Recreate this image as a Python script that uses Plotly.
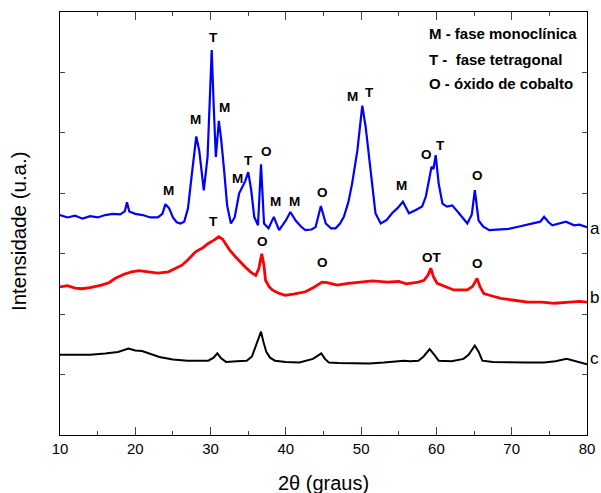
import plotly.graph_objects as go

# ---- data (2theta in degrees, intensity in arbitrary units) ----
a_x = [10.0, 11.0, 12.0, 13.0, 14.0, 15.0, 16.0, 17.0, 18.0, 18.6, 18.9, 19.2, 20.0, 21.0, 22.0, 23.0,
       23.6, 24.0, 24.5, 25.0, 25.5, 26.0, 26.5, 27.0, 27.5, 28.1, 28.5, 29.1, 29.6, 30.0, 30.15, 30.4,
       30.7, 31.1, 31.4, 31.8, 32.2, 32.7, 33.2, 33.8, 34.2, 34.6, 35.0, 35.4, 35.8, 36.3, 36.7, 37.1,
       37.7, 38.4, 39.1, 40.0, 40.6, 41.3, 42.0, 42.6, 43.4, 43.95, 44.65, 45.3, 46.0, 46.6, 47.2, 47.7,
       48.3, 48.8, 49.5, 50.15, 50.6, 51.3, 51.9, 52.6, 53.4, 54.1, 54.8, 55.55, 56.35, 57.2, 58.1, 58.6,
       59.0, 59.35, 59.6, 59.9, 60.3, 60.8, 61.4, 62.1, 63.0, 63.6, 64.1, 64.7, 65.1, 65.6, 66.2, 67.0,
       68.0, 69.6, 71.0, 71.8, 73.0, 73.8, 74.3, 74.9, 75.4, 76.3, 77.2, 78.3, 79.0, 80.0]
a_y = [3.64, 3.60, 3.63, 3.58, 3.62, 3.60, 3.64, 3.66, 3.65, 3.70, 3.85, 3.70, 3.66, 3.64, 3.60, 3.60,
       3.66, 3.82, 3.75, 3.60, 3.52, 3.50, 3.53, 3.75, 4.30, 4.94, 4.70, 4.05, 4.60, 5.80, 6.37, 5.50,
       4.60, 5.20, 4.90, 4.38, 3.80, 3.50, 3.60, 4.00, 4.10, 4.20, 4.35, 4.05, 3.61, 3.47, 4.48, 3.50,
       3.42, 3.61, 3.39, 3.55, 3.69, 3.55, 3.45, 3.39, 3.40, 3.44, 3.79, 3.50, 3.42, 3.42, 3.50, 3.61,
       3.85, 4.16, 4.71, 5.45, 5.10, 4.27, 3.67, 3.50, 3.56, 3.67, 3.75, 3.86, 3.67, 3.72, 3.78, 3.95,
       4.21, 4.44, 4.40, 4.63, 4.16, 3.83, 3.78, 3.80, 3.67, 3.58, 3.50, 3.65, 4.05, 3.55, 3.45, 3.39,
       3.40, 3.41, 3.45, 3.47, 3.50, 3.53, 3.61, 3.52, 3.47, 3.50, 3.53, 3.47, 3.48, 3.44]

b_x = [10.0, 11.0, 12.0, 12.9, 14.0, 15.5, 16.5, 17.3, 18.5, 19.5, 20.5, 21.75, 23.0, 24.4, 25.3, 26.2,
       27.0, 28.0, 29.0, 29.7, 30.4, 31.1, 31.6, 32.0, 32.6, 33.3, 34.0, 34.6, 35.3, 36.0, 36.4, 36.8,
       37.1, 37.3, 37.8, 38.2, 39.0, 39.9, 41.0, 42.6, 43.8, 44.8, 45.5, 46.8, 48.3, 49.9, 51.5, 53.5,
       55.0, 56.0, 56.6, 57.6, 58.35, 58.9, 59.25, 59.6, 60.1, 61.2, 62.3, 63.2, 64.1, 64.8, 65.4, 65.8,
       66.3, 67.4, 68.55, 70.3, 72.1, 74.0, 75.65, 77.7, 79.0, 80.0]
b_y = [2.45, 2.47, 2.43, 2.42, 2.44, 2.48, 2.52, 2.59, 2.66, 2.70, 2.72, 2.70, 2.68, 2.70, 2.75, 2.81,
       2.90, 3.03, 3.10, 3.17, 3.22, 3.28, 3.24, 3.17, 3.05, 2.95, 2.85, 2.78, 2.70, 2.64, 2.75, 3.00,
       2.80, 2.56, 2.45, 2.40, 2.35, 2.31, 2.33, 2.37, 2.45, 2.53, 2.52, 2.48, 2.51, 2.53, 2.55, 2.53,
       2.54, 2.50, 2.51, 2.53, 2.56, 2.65, 2.76, 2.62, 2.51, 2.45, 2.40, 2.40, 2.40, 2.46, 2.59, 2.45,
       2.34, 2.30, 2.26, 2.23, 2.20, 2.20, 2.18, 2.20, 2.21, 2.20]

c_x = [10.0, 12.0, 14.0, 16.0, 17.7, 19.1, 20.0, 20.9, 22.0, 23.2, 25.0, 26.95, 28.5, 29.7, 30.4, 30.9,
       31.4, 32.05, 33.5, 34.8, 35.5, 36.0, 36.4, 36.7, 37.0, 37.4, 37.9, 38.55, 40.0, 41.8, 43.6, 44.2,
       44.7, 45.2, 45.7, 47.0, 49.0, 51.1, 53.0, 55.7, 56.5, 57.6, 58.3, 59.1, 59.7, 60.3, 62.0, 63.6,
       64.3, 65.1, 65.6, 66.1, 67.5, 69.6, 72.0, 74.3, 75.8, 77.3, 78.5, 80.0]
c_y = [1.33, 1.33, 1.33, 1.35, 1.375, 1.43, 1.40, 1.39, 1.34, 1.29, 1.25, 1.23, 1.23, 1.23, 1.28, 1.35,
       1.27, 1.21, 1.22, 1.23, 1.30, 1.46, 1.62, 1.71, 1.55, 1.375, 1.28, 1.23, 1.21, 1.20, 1.26, 1.31,
       1.35, 1.26, 1.20, 1.19, 1.19, 1.185, 1.20, 1.23, 1.22, 1.23, 1.30, 1.42, 1.33, 1.23, 1.22, 1.26,
       1.33, 1.48, 1.38, 1.23, 1.21, 1.20, 1.20, 1.20, 1.22, 1.26, 1.22, 1.17]

series_names = ["a", "b", "c"]
series_colors = ["#0000FF", "#FF0000", "#000000"]
series_widths = [2.2, 2.8, 2.0]

# peak labels: text, 2theta, intensity
peak_text = ["M", "M", "T", "M", "M", "T", "O", "M", "M", "O", "M", "T", "M", "O", "T", "O",
             "T", "O", "O", "OT", "O"]
peak_x = [24.4, 28.0, 30.4, 31.8, 33.6, 35.0, 37.4, 38.6, 41.1, 44.9, 48.9, 51.1, 55.4, 58.7, 60.6, 65.5,
          30.4, 36.9, 44.9, 59.4, 65.4]
peak_y = [4.05, 5.22, 6.58, 5.42, 4.25, 4.55, 4.69, 3.87, 3.87, 4.02, 5.60, 5.67, 4.13, 4.64, 4.79, 4.30,
          3.54, 3.21, 2.86, 2.93, 2.83]

legend_lines = ["M - fase monoclínica", "T -  fase tetragonal", "O - óxido de cobalto"]
legend_y = [6.64, 6.22, 5.82]
series_label_y = [3.42, 2.28, 1.26]

FONT = "Liberation Sans, Arial, sans-serif"

fig = go.Figure()
for xs, ys, name, col, w in zip([a_x, b_x, c_x], [a_y, b_y, c_y], series_names, series_colors, series_widths):
    fig.add_trace(go.Scatter(x=xs, y=ys, mode="lines", name=name,
                             line=dict(color=col, width=w), showlegend=False))

annotations = []
for t, x, y in zip(peak_text, peak_x, peak_y):
    annotations.append(dict(x=x, y=y, xref="x", yref="y", text="<b>%s</b>" % t, showarrow=False,
                            font=dict(family=FONT, size=13.5, color="black")))
for t, y in zip(legend_lines, legend_y):
    annotations.append(dict(x=58.7, y=y, xref="x", yref="y", text="<b>%s</b>" % t, showarrow=False,
                            xanchor="left", font=dict(family=FONT, size=15, color="black")))
for t, y in zip(series_names, series_label_y):
    annotations.append(dict(x=(588 - 60) / 527, y=y, xref="paper", yref="y", text=t, showarrow=False,
                            xanchor="left", yanchor="middle", font=dict(family=FONT, size=17, color="black")))
annotations.append(dict(x=(18 - 60) / 527, y=(435 - 231) / 423, xref="paper", yref="paper",
                        text="Intensidade (u.a.)", textangle=-90, showarrow=False, xanchor="center",
                        yanchor="middle", font=dict(family=FONT, size=20.5, color="black")))
annotations.append(dict(x=(323 - 60) / 527, y=-(483 - 435) / 423, xref="paper", yref="paper",
                        text="2θ (graus)", showarrow=False, xanchor="center", yanchor="middle",
                        font=dict(family=FONT, size=20, color="black")))

fig.update_layout(
    width=601, height=493,
    autosize=False,
    margin=dict(l=60, r=14, t=12, b=58, pad=0, autoexpand=False),
    paper_bgcolor="white", plot_bgcolor="white",
    font=dict(family=FONT, color="black"),
    annotations=annotations,
    xaxis=dict(range=[10, 80], dtick=10, tick0=10, ticks="inside", ticklen=8, tickwidth=1.2,
               showline=True, linecolor="black", linewidth=1.3, mirror="allticks", showgrid=False,
               zeroline=False, automargin=False, tickfont=dict(family=FONT, size=15, color="black"),
               minor=dict(dtick=5, tick0=10, ticks="inside", ticklen=4, tickwidth=1.2, showgrid=False)),
    yaxis=dict(range=[0, 7], dtick=1, tick0=0, ticks="inside", ticklen=5, tickwidth=1.2,
               showline=True, linecolor="black", linewidth=1.3, mirror="allticks", showgrid=False,
               zeroline=False, automargin=False, showticklabels=False),
)

fig.write_html("out.html", config={"displayModeBar": False},
               post_script="document.body.style.margin='0';document.body.style.overflow='hidden';")
